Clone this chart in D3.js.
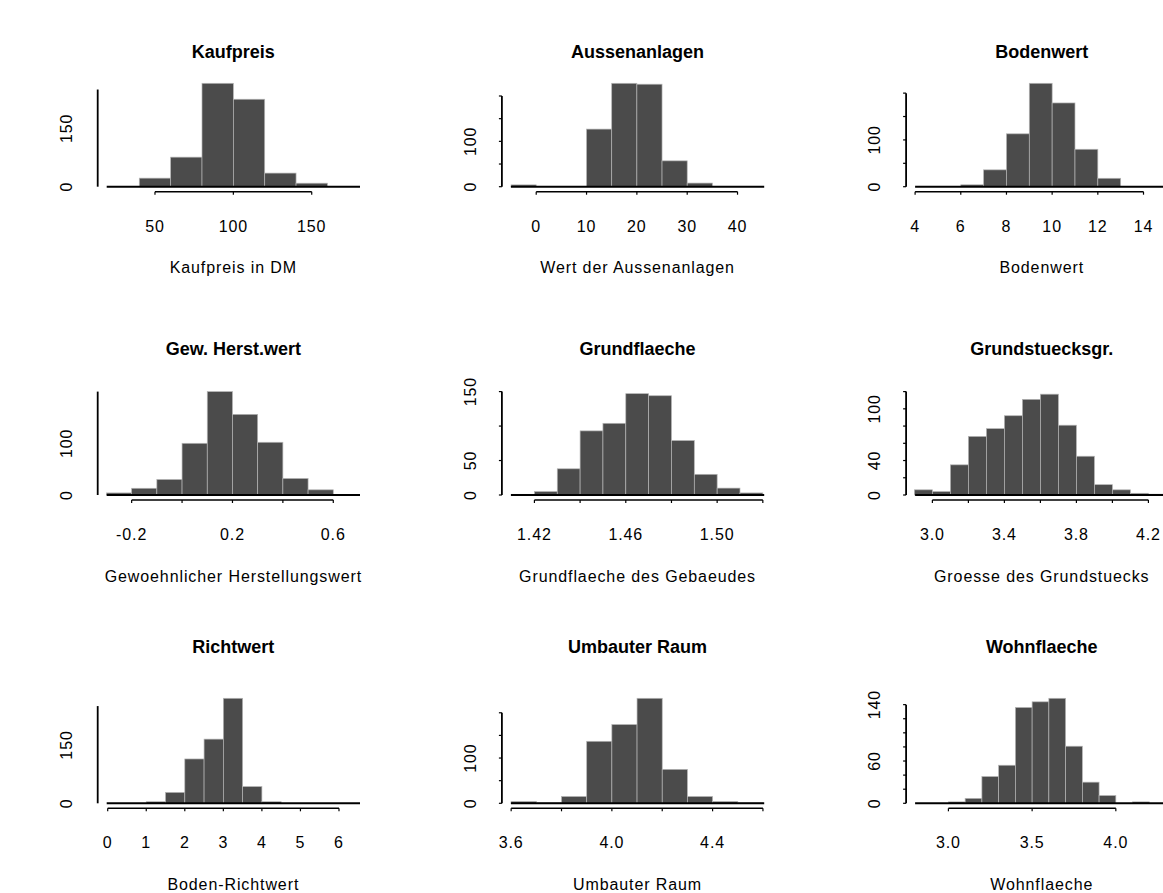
<!DOCTYPE html>
<html>
<head>
<meta charset="utf-8">
<script src="https://cdn.jsdelivr.net/npm/d3@7"></script>
<style>
    body { margin: 0; background: #fff; }
    svg { display: block; }
    text { font-family: "Liberation Sans", Arial, sans-serif; fill: #000; }
    .tick-label, .x-label { font-size: 16px; letter-spacing: 0.9px; }
    .title { font-size: 18px; font-weight: bold; }
</style>
</head>
<body>
<script>
// titles and axis labels
const titles = ["Kaufpreis", "Aussenanlagen", "Bodenwert",
    "Gew. Herst.wert", "Grundflaeche", "Grundstuecksgr.",
    "Richtwert", "Umbauter Raum", "Wohnflaeche"];
const xLabels = ["Kaufpreis in DM", "Wert der Aussenanlagen", "Bodenwert",
    "Gewoehnlicher Herstellungswert", "Grundflaeche des Gebaeudes", "Groesse des Grundstuecks",
    "Boden-Richtwert", "Umbauter Raum", "Wohnflaeche"];

// histogram breaks and counts
const kaufpreisBreaks = [40, 60, 80, 100, 120, 140, 160];
const kaufpreisCounts = [22, 76, 266, 225, 35, 9];
const aussenBreaks = [-5, 0, 5, 10, 15, 20, 25, 30, 35, 40];
const aussenCounts = [4, 0, 0, 127, 228, 226, 57, 8, 0];
const bodenBreaks = [4, 5, 6, 7, 8, 9, 10, 11, 12, 13, 14];
const bodenCounts = [0, 0, 4, 36, 113, 221, 179, 80, 18, 0];
const herstBreaks = [-0.3, -0.2, -0.1, 0, 0.1, 0.2, 0.3, 0.4, 0.5, 0.6];
const herstCounts = [4, 13, 30, 100, 200, 156, 102, 32, 10];
const grundfBreaks = [1.41, 1.42, 1.43, 1.44, 1.45, 1.46, 1.47, 1.48, 1.49, 1.50, 1.51, 1.52];
const grundfCounts = [1, 5, 38, 93, 104, 147, 144, 79, 30, 10, 3];
const grundstBreaks = [2.9, 3.0, 3.1, 3.2, 3.3, 3.4, 3.5, 3.6, 3.7, 3.8, 3.9, 4.0, 4.1, 4.2, 4.3];
const grundstCounts = [6, 4, 35, 68, 77, 92, 111, 117, 81, 45, 12, 6, 2, 1];
const richtBreaks = [0, 0.5, 1, 1.5, 2, 2.5, 3, 3.5, 4, 4.5, 5, 5.5, 6, 6.5];
const richtCounts = [0, 0, 4, 28, 114, 165, 270, 43, 4, 0, 0, 0, 0];
const raumBreaks = [3.6, 3.7, 3.8, 3.9, 4.0, 4.1, 4.2, 4.3, 4.4, 4.5, 4.6];
const raumCounts = [4, 1, 15, 137, 174, 232, 75, 15, 4, 1];
const wohnBreaks = [3.0, 3.1, 3.2, 3.3, 3.4, 3.5, 3.6, 3.7, 3.8, 3.9, 4.0, 4.1, 4.2];
const wohnCounts = [2, 7, 38, 54, 136, 144, 149, 81, 30, 11, 0, 2];

// x axis ticks and labels ("" = tick without label)
const kaufpreisXTicks = [50, 100, 150];
const kaufpreisXLabels = ["50", "100", "150"];
const aussenXTicks = [0, 10, 20, 30, 40];
const aussenXLabels = ["0", "10", "20", "30", "40"];
const bodenXTicks = [4, 6, 8, 10, 12, 14];
const bodenXLabels = ["4", "6", "8", "10", "12", "14"];
const herstXTicks = [-0.2, 0, 0.2, 0.4, 0.6];
const herstXLabels = ["-0.2", "", "0.2", "", "0.6"];
const grundfXTicks = [1.42, 1.44, 1.46, 1.48, 1.50, 1.52];
const grundfXLabels = ["1.42", "", "1.46", "", "1.50", ""];
const grundstXTicks = [3.0, 3.2, 3.4, 3.6, 3.8, 4.0, 4.2];
const grundstXLabels = ["3.0", "", "3.4", "", "3.8", "", "4.2"];
const richtXTicks = [0, 1, 2, 3, 4, 5, 6];
const richtXLabels = ["0", "1", "2", "3", "4", "5", "6"];
const raumXTicks = [3.6, 3.8, 4.0, 4.2, 4.4, 4.6];
const raumXLabels = ["3.6", "", "4.0", "", "4.4", ""];
const wohnXTicks = [3.0, 3.5, 4.0];
const wohnXLabels = ["3.0", "3.5", "4.0"];

// y axis ticks and labels
const yTicks250 = [0, 50, 100, 150, 200, 250];
const yLabels250 = ["0", "", "", "150", "", ""];
const yTicks200 = [0, 50, 100, 150, 200];
const yLabels200 = ["0", "", "100", "", ""];
const yTicks150 = [0, 50, 100, 150];
const yLabels150 = ["0", "50", "", "150"];
const yTicks120 = [0, 20, 40, 60, 80, 100, 120];
const yLabels120 = ["0", "", "40", "", "", "100", ""];
const yTicks140 = [0, 20, 40, 60, 80, 100, 120, 140];
const yLabels140 = ["0", "", "", "60", "", "", "", "140"];

// visible x range of each plot region
const xDomains = [[19.2, 180.8], [-5.03, 45.3], [4.0, 15.09],
    [-0.299, 0.706], [1.4097, 1.5206], [2.904, 4.311],
    [-0.026, 6.545], [3.599, 4.605], [2.801, 4.314]];

const panels = [
    [kaufpreisBreaks, kaufpreisCounts, kaufpreisXTicks, kaufpreisXLabels, yTicks250, yLabels250],
    [aussenBreaks, aussenCounts, aussenXTicks, aussenXLabels, yTicks200, yLabels200],
    [bodenBreaks, bodenCounts, bodenXTicks, bodenXLabels, yTicks200, yLabels200],
    [herstBreaks, herstCounts, herstXTicks, herstXLabels, yTicks200, yLabels200],
    [grundfBreaks, grundfCounts, grundfXTicks, grundfXLabels, yTicks150, yLabels150],
    [grundstBreaks, grundstCounts, grundstXTicks, grundstXLabels, yTicks120, yLabels120],
    [richtBreaks, richtCounts, richtXTicks, richtXLabels, yTicks250, yLabels250],
    [raumBreaks, raumCounts, raumXTicks, raumXLabels, yTicks200, yLabels200],
    [wohnBreaks, wohnCounts, wohnXTicks, wohnXLabels, yTicks140, yLabels140]
];

run();

function run() {
    let width = 1163;
    let height = 893;

    let svg = d3.select("body")
        .append("svg")
        .attr("width", width)
        .attr("height", height);

    for (let i = 0; i < panels.length; i++) {
        drawPanel(svg, i);
    }
}

function drawPanel(svg, i) {
    let col = i % 3;
    let row = Math.floor(i / 3);
    let p = panels[i];
    let breaks = p[0], counts = p[1];

    // layout of the 3x3 grid
    let left = 106.7 + col * 404.2;
    let plotW = 253.3;
    let base = 186.7 + row * 308.3;
    let plotH = row == 2 ? 105 : 103.4;
    let axisX = left - 9;
    let axisY = base + 5;
    let leftCol = col == 0;

    let x = d3.scaleLinear().domain(xDomains[i]).range([left, left + plotW]);
    let yMax = Math.max(d3.max(counts), d3.max(p[4]));
    let y = d3.scaleLinear().domain([0, yMax]).range([base, base - plotH]);

    let g = svg.append("g").attr("class", "panel");

    // title (titles sit on an even 1/3 page grid)
    g.append("text")
        .attr("class", "title")
        .attr("x", left + plotW / 2)
        .attr("y", 58 + row * 297.3)
        .attr("text-anchor", "middle")
        .text(titles[i]);

    // bars
    let bins = counts.map(function (c, k) {
        return { x0: breaks[k], x1: breaks[k + 1], n: c };
    });
    g.selectAll(".bar")
        .data(bins.filter(function (d) { return d.n > 0; }))
        .enter()
        .append("rect")
        .attr("class", "bar")
        .attr("x", function (d) { return x(d.x0); })
        .attr("width", function (d) { return x(d.x1) - x(d.x0); })
        .attr("y", function (d) { return y(d.n); })
        .attr("height", function (d) { return y(0) - y(d.n); })
        .style("fill", "#4b4b4b")
        .style("stroke", "#b4b4b4")
        .style("stroke-width", 0.7);

    // zero line across the plot region
    g.append("line")
        .attr("x1", left).attr("x2", left + plotW)
        .attr("y1", y(0)).attr("y2", y(0))
        .style("stroke", "#000")
        .style("stroke-width", 2);

    // x axis
    let xt = p[2], xl = p[3];
    g.append("line")
        .attr("x1", x(xt[0])).attr("x2", x(xt[xt.length - 1]))
        .attr("y1", axisY).attr("y2", axisY)
        .style("stroke", "#000")
        .style("stroke-width", 1.6);
    g.selectAll(".xtick")
        .data(xt)
        .enter()
        .append("line")
        .attr("class", "xtick")
        .attr("x1", function (d) { return x(d); })
        .attr("x2", function (d) { return x(d); })
        .attr("y1", axisY).attr("y2", axisY + 3)
        .style("stroke", "#000")
        .style("stroke-width", 1.2);
    g.selectAll(".xlab")
        .data(xt)
        .enter()
        .append("text")
        .attr("class", "tick-label")
        .attr("x", function (d) { return x(d); })
        .attr("y", axisY + 40)
        .attr("text-anchor", "middle")
        .text(function (d, k) { return xl[k]; });

    g.append("text")
        .attr("class", "x-label")
        .attr("x", left + plotW / 2)
        .attr("y", axisY + 81.6)
        .attr("text-anchor", "middle")
        .text(xLabels[i]);

    // y axis
    let yt = p[4], yl = p[5];
    g.append("line")
        .attr("x1", axisX).attr("x2", axisX)
        .attr("y1", y(0)).attr("y2", y(yt[yt.length - 1]))
        .style("stroke", "#000")
        .style("stroke-width", 1.8);
    if (!leftCol) {
        g.selectAll(".ytick")
            .data(yt)
            .enter()
            .append("line")
            .attr("class", "ytick")
            .attr("x1", axisX - 3).attr("x2", axisX)
            .attr("y1", function (d) { return y(d); })
            .attr("y2", function (d) { return y(d); })
            .style("stroke", "#000")
            .style("stroke-width", 1.2);
    }
    g.selectAll(".ylab")
        .data(yt)
        .enter()
        .append("text")
        .attr("class", "tick-label")
        .attr("text-anchor", "middle")
        .attr("transform", function (d) {
            return "translate(" + (axisX - 26) + "," + y(d) + ") rotate(-90)";
        })
        .text(function (d, k) { return yl[k]; });
}
</script>
</body>
</html>
